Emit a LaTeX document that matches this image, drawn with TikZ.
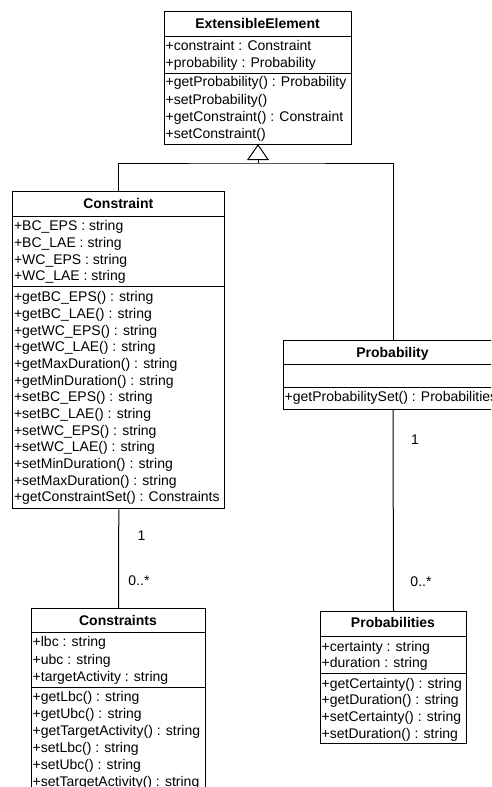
\documentclass[tikz,border=0pt]{standalone}
\usepackage{fontspec}
\setmainfont{Liberation Sans}
\usetikzlibrary{calc}
\begin{document}
\begin{tikzpicture}[x=1pt,y=-1pt,
  classbox/.style={draw=black, line width=1pt, inner sep=0pt, anchor=north west, fill=white},
  member/.style={anchor=base west, inner sep=0pt, font=\fontsize{14}{16}\selectfont},
  classname/.style={anchor=base, inner sep=0pt, font=\fontsize{14}{16}\selectfont\bfseries},
  mult/.style={anchor=base, inner sep=0pt, font=\fontsize{14}{16}\selectfont},
  rule/.style={draw=black, line width=1pt},
  link/.style={draw=black, line width=1pt}]
\clip (0,0) rectangle (491,787);
\fill[white] (0,0) rectangle (491,787);

% ---------- ExtensibleElement ----------
\node[classbox, minimum width=187pt, minimum height=133pt] (ee) at (164,11) {};
\draw[rule] (164,36) -- (351,36);
\draw[rule] (164,73) -- (351,73);
\node[classname] (ee-name) at (257.5,28.3) {ExtensibleElement};
\foreach \t [count=\i from 0] in {+constraint : Constraint, +probability : Probability}
  \node[member] (ee-a\i) at (165.5,50+17.3*\i) {\t};
\foreach \t [count=\i from 0] in {+getProbability() : Probability, +setProbability(), +getConstraint() : Constraint, +setConstraint()}
  \node[member] (ee-m\i) at (165.5,86.7+17.3*\i) {\t};

% ---------- Constraint ----------
\node[classbox, minimum width=212pt, minimum height=317.3pt] (con) at (12.3,191) {};
\draw[rule] (12.3,216) -- (224.3,216);
\draw[rule] (12.3,286.7) -- (224.3,286.7);
\node[classname] (con-name) at (118.3,208.3) {Constraint};
\foreach \t [count=\i from 0] in {+BC\_EPS : string, +BC\_LAE : string, +WC\_EPS : string, +WC\_LAE : string}
  \node[member] (con-a\i) at (13.8,230.7+16.67*\i) {\t};
\foreach \t [count=\i from 0] in {+getBC\_EPS() : string, +getBC\_LAE() : string, +getWC\_EPS() : string, +getWC\_LAE() : string, +getMaxDuration() : string, +getMinDuration() : string, +setBC\_EPS() : string, +setBC\_LAE() : string, +setWC\_EPS() : string, +setWC\_LAE() : string, +setMinDuration() : string, +setMaxDuration() : string, +getConstraintSet() : Constraints}
  \node[member] (con-m\i) at (13.8,301.7+16.67*\i) {\t};

% ---------- Constraints ----------
\node[classbox, minimum width=174pt, minimum height=200pt] (cons) at (31,608) {};
\draw[rule] (31,632.7) -- (205,632.7);
\draw[rule] (31,687.3) -- (205,687.3);
\node[classname] (cons-name) at (118,625) {Constraints};
\foreach \t [count=\i from 0] in {+lbc : string, +ubc : string, +targetActivity : string}
  \node[member] (cons-a\i) at (32.5,646.7+17.3*\i) {\t};
\foreach \t [count=\i from 0] in {+getLbc() : string, +getUbc() : string, +getTargetActivity() : string, +setLbc() : string, +setUbc() : string, +setTargetActivity() : string}
  \node[member] (cons-m\i) at (32.5,701.7+16.86*\i) {\t};

% ---------- Probability ----------
\node[classbox, minimum width=219pt, minimum height=69pt] (prob) at (283,340) {};
\draw[rule] (283,364) -- (502,364);
\draw[rule] (283,387) -- (502,387);
\node[classname] (prob-name) at (392.5,357) {Probability};
\node[member] (prob-m0) at (284.5,401.7) {+getProbabilitySet() : Probabilities};

% ---------- Probabilities ----------
\node[classbox, minimum width=146pt, minimum height=132pt] (probs) at (320,611) {};
\draw[rule] (320,636) -- (466,636);
\draw[rule] (320,673) -- (466,673);
\node[classname] (probs-name) at (393,627.7) {Probabilities};
\foreach \t [count=\i from 0] in {+certainty : string, +duration : string}
  \node[member] (probs-a\i) at (321.5,651+16.3*\i) {\t};
\foreach \t [count=\i from 0] in {+getCertainty() : string, +getDuration() : string, +setCertainty() : string, +setDuration() : string}
  \node[member] (probs-m\i) at (321.5,688.3+16.67*\i) {\t};

% ---------- generalisation ----------
\coordinate (tri-l) at ($(ee.south)+(-10,14.5)$);
\coordinate (tri-r) at ($(ee.south)+(10,14.5)$);
\coordinate (tri-base) at ($(ee.south)+(0,14.5)$);
\coordinate (bus) at ($(ee.south)+(0,18)$);
\draw[link] (con.north) |- (bus) -| (prob.north);
\draw[link] (tri-base) -- (bus);
\draw[link, fill=white, line join=miter] (ee.south) -- (tri-l) -- (tri-r) -- cycle;

% ---------- associations ----------
\draw[link] (con.south) -- (cons.north);
\draw[link] (prob.south) -- (probs.north);
\node[mult] (m-con) at (141.5,540) {1};
\node[mult] (m-cons) at (139,585) {0..*};
\node[mult] (m-prob) at (415,444) {1};
\node[mult] (m-probs) at (421,586) {0..*};
\end{tikzpicture}
\end{document}
